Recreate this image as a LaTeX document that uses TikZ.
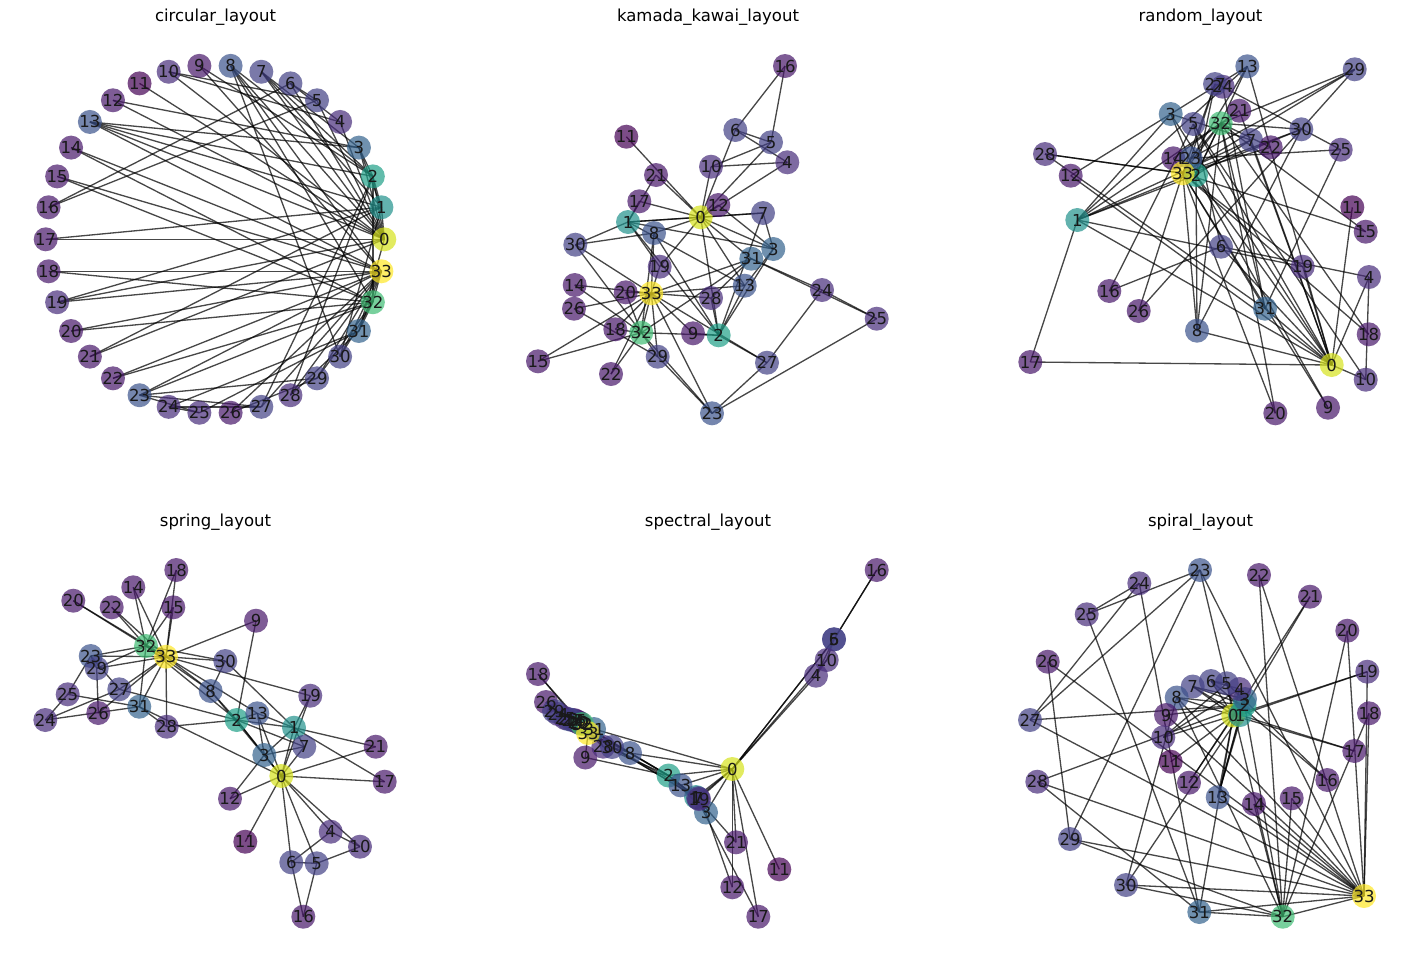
\documentclass[tikz,border=0pt]{standalone}
\usepackage{fontspec}
\setmainfont{DejaVu Sans}
\pgfdeclarelayer{edges}
\pgfdeclarelayer{labels}
\pgfsetlayers{edges,main,labels}
\definecolor{vir1}{RGB}{68,1,84}
\definecolor{vir2}{RGB}{71,23,106}
\definecolor{vir3}{RGB}{71,44,122}
\definecolor{vir4}{RGB}{66,64,133}
\definecolor{vir5}{RGB}{59,82,139}
\definecolor{vir6}{RGB}{51,98,141}
\definecolor{vir9}{RGB}{33,145,140}
\definecolor{vir10}{RGB}{31,159,136}
\definecolor{vir12}{RGB}{63,188,115}
\definecolor{vir16}{RGB}{214,226,28}
\definecolor{vir17}{RGB}{253,231,37}
\def\deglist{{16,9,10,6,3,4,4,4,5,2,3,1,2,5,2,2,2,2,2,3,2,2,2,5,3,3,2,4,3,4,4,6,12,17}}
\def\edgelist{0/1,0/2,0/3,0/4,0/5,0/6,0/7,0/8,0/10,0/11,0/12,0/13,0/17,0/19,0/21,0/31,1/2,1/3,1/7,1/13,1/17,1/19,1/21,1/30,2/3,2/7,2/8,2/9,2/13,2/27,2/28,2/32,3/7,3/12,3/13,4/6,4/10,5/6,5/10,5/16,6/16,8/30,8/32,8/33,9/33,13/33,14/32,14/33,15/32,15/33,18/32,18/33,19/33,20/32,20/33,22/32,22/33,23/25,23/27,23/29,23/32,23/33,24/25,24/27,24/31,25/31,26/29,26/33,27/33,28/31,28/33,29/32,29/33,30/32,30/33,31/32,31/33,32/33}
\newcommand\knode[4]{%
  \pgfmathtruncatemacro\dg{\deglist[#2]}%
  \node[vnode, fill=vir\dg] (#1#2) at (#3,#4) {};
  \begin{pgfonlayer}{labels}\node[lbl] (#1l#2) at (#1#2.center) {#2};\end{pgfonlayer}%
}
\newcommand\kedges[1]{%
  \begin{pgfonlayer}{edges}
  \foreach \a/\b in \edgelist {\draw[edgeline] (#1\a.center) -- (#1\b.center);}
  \end{pgfonlayer}%
}
\begin{document}
\begin{tikzpicture}[x=0.02cm,y=-0.02cm,
  vnode/.style={circle,inner sep=0pt,minimum size=0.48cm,draw=none,fill opacity=0.7},
  lbl/.style={inner sep=0pt,font=\fontsize{9.4}{11}\selectfont,text=black!90},
  edgeline/.style={draw=black,draw opacity=0.72,line width=0.75pt},
  ttl/.style={anchor=base,inner sep=0pt,font=\fontsize{9.4}{11}\selectfont}]
\useasboundingbox (0,0) rectangle (1415,964);
% titles
\node[ttl] (t1) at (215.5,21.7) {circular\_layout};
\node[ttl] (t2) at (708,21.7) {kamada\_kawai\_layout};
\node[ttl] (t3) at (1200.5,21.7) {random\_layout};
\node[ttl] (t4) at (215.5,526.7) {spring\_layout};
\node[ttl] (t5) at (708,526.7) {spectral\_layout};
\node[ttl] (t6) at (1200.5,526.7) {spiral\_layout};
% circular
\foreach \i in {0,...,33} {%
  \pgfmathsetmacro\cx{215+169.3*cos(360*\i/34)}%
  \pgfmathsetmacro\cy{239.3-174.2*sin(360*\i/34)}%
  \knode{c}{\i}{\cx}{\cy}}
\kedges{c}
% kamada kawai
\foreach \x/\y [count=\i from 0] in {700.7/217.3,628/222,718.7/335.3,773.3/249,787.3/162.3,771/142.3,735.3/130,763/213,654/233,693/333.3,711/166.7,626.3/136.7,718.3/205,744.7/285.7,574.7/285,538/361.3,785/66,639.3/201.3,615.3/329.3,659.7/266.7,625.7/292.3,656/175,611/374,712/413.3,822/290,876.7/318.7,574/308.7,767/362.7,711/298,657.7/356.7,575.3/244.7,751.3/258.7,641.3/332.7,651.3/293.3}
  {\knode{k}{\i}{\x}{\y}}
\kedges{k}
% random
\foreach \x/\y [count=\i from 0] in {1331.7/365,1077.3/220,1196/175,1170.7/114,1369/277,1193.3/124,1221/246.7,1251/140,1197/330.7,1328/407.7,1365.7/379.7,1352.3/207.3,1070.7/175.7,1247.3/66.3,1173.3/158.3,1365.7/231.7,1109.3/291,1030.3/362,1368.7/334.3,1302.7/266.7,1275.3/413.3,1239.3/110.7,1270.7/147.3,1190.7/158.3,1222.7/86.7,1340.7/149.7,1138.7/311,1215/84,1045/154,1354.7/69.3,1301.3/129.3,1265/308.7,1220.7/123.3,1182.7/173.3}
  {\knode{r}{\i}{\x}{\y}}
\kedges{r}
% spring
\foreach \x/\y [count=\i from 0] in {281.3/776,294/727.7,236.7/720,264.3/755,330.7/831.7,316.7/863.3,291.3/862.3,304.3/746.7,210.7/691,256/620.7,360/846.7,245.3/841.7,230/798.7,257.3/713.3,133.3/587.3,173.3/607.3,303.3/916.7,384.7/781.7,176.3/570,310.3/695.7,73.3/600.7,375.7/746.7,111.7/607.3,90.7/656,45.3/720,67.7/694.3,98.3/713,119.3/689.3,166.7/726.7,96.7/668.3,225.3/661,139.3/706.7,146/646,166/656.7}
  {\knode{s}{\i}{\x}{\y}}
\kedges{s}
% spectral
\foreach \x/\y [count=\i from 0] in {732.3/769,696/797,668.5/775.5,706/812.5,816/675.7,834/639.3,834/639.3,698/798,630/753,585.3/757.5,826.7/660,779.3/869.3,732.3/887.3,680.5/785.3,574/720,576/721,876.7/570,758.3/916.7,538/674,699/799,578/722,736/842.3,580/723,568/719,558/714,565/718,546/702,572/720,603.3/746.7,554/711,612/747,594/729,582/724,588/733}
  {\knode{p}{\i}{\x}{\y}}
\kedges{p}
% spiral
\foreach \x/\y [count=\i from 0] in {1233.3/715.5,1240/715,1244.5/705,1245/699,1239.5/689,1226.7/683.3,1211/681,1192.7/686.5,1176.7/697.5,1166/715,1163.3/737.3,1170.7/761.7,1189/782.7,1217.7/797.3,1254/804,1291.7/798.3,1327.3/780,1354.3/751,1369/713.3,1367.3/671.7,1347.3/630.7,1310/596.7,1259/575,1200/570,1139.3/583.3,1086.7/614.3,1047.7/661.7,1030/720,1037.3/781.7,1070/839,1126/885,1199.3/912,1282.7/916.7,1364/896}
  {\knode{q}{\i}{\x}{\y}}
\kedges{q}
\end{tikzpicture}
\end{document}
